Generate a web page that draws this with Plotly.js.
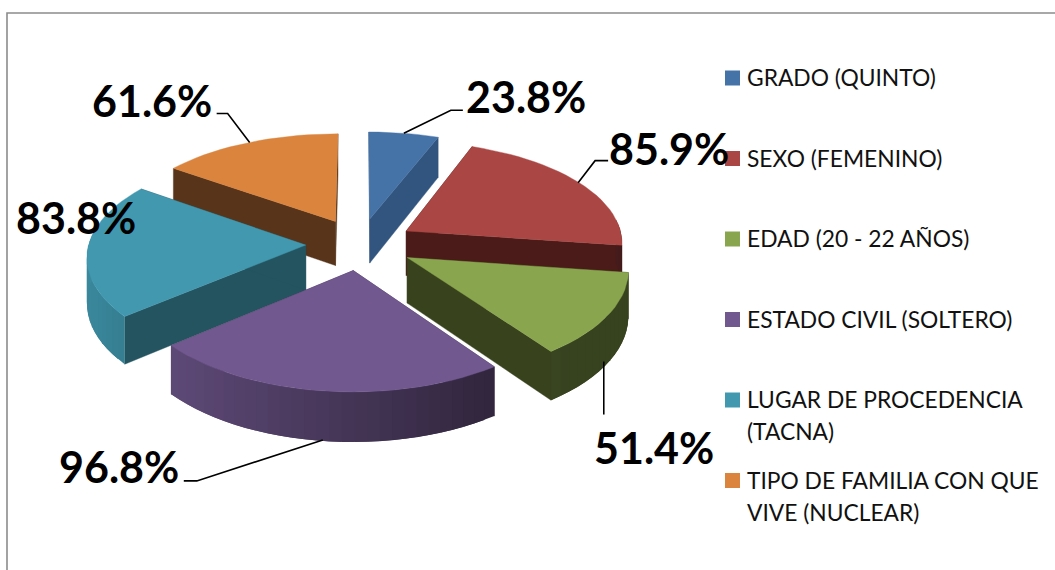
<!DOCTYPE html>
<html><head><meta charset="utf-8">
<script src="https://cdn.plot.ly/plotly-3.0.1.min.js"></script>
<style>html,body{margin:0;padding:0;background:#fff;overflow:hidden}#c{width:1055px;height:570px}</style>
</head><body><div id="c"></div>
<script>
// ---- data ----
const categories = ["GRADO (QUINTO)","SEXO (FEMENINO)","EDAD (20 - 22 AÑOS)","ESTADO CIVIL (SOLTERO)","LUGAR DE PROCEDENCIA (TACNA)","TIPO DE FAMILIA CON QUE VIVE (NUCLEAR)"];
const values = [23.8, 85.9, 51.4, 96.8, 83.8, 61.6];
// ---- style ----
const topColors  = ["#4572A7","#AA4643","#89A54E","#71588F","#4198AF","#DB843D"];
const wallColors = ["#32557F","#4A1B18","#38421C","#3A2A4A","#24545F","#57341A"];
const drawOrder = [0,5,1,4,2,3];
// ---- projection settings (plane point -> picture position, nearer is larger) ----
const cx=360, cy=244, Rx=217, Ry=104.2, px=0.1, py=0.11, explode=0.25;
const depth = V => 45 + 4.1*V;
const uv = t => [Math.sin(t), -Math.cos(t)];
const project = (U,V) => ({x:cx+Rx*U*(1+px*V), y:cy+Ry*V*(1+py*V), V});

const total = values.reduce((a,b)=>a+b,0);
let acc = 0;
const slices = values.map((val,i)=>{
  const a0 = acc/total*2*Math.PI; acc += val; const a1 = acc/total*2*Math.PI;
  const mid=(a0+a1)/2, [mu,mv]=uv(mid), eU=mu*explode, eV=mv*explode;
  const at = t => { const [u,v]=uv(t); return Object.assign(project(eU+u,eV+v),{u,v}); };
  const n=Math.max(6,Math.round((a1-a0)/(Math.PI/60)));
  const arc=[]; for(let k=0;k<=n;k++) arc.push(at(a0+(a1-a0)*k/n));
  return {i,a0,a1,mid,apex:project(eU,eV),arc,midPoint:at(mid)};
});
function shade(hex,k){ const n=parseInt(hex.slice(1),16);
  return `rgb(${[(n>>16)&255,(n>>8)&255,n&255].map(c=>Math.round(c*k)).join(",")})`; }
function poly(xs,ys,color,lw){ return {type:"scatter",mode:"lines",x:xs,y:ys,fill:"toself",fillcolor:color,
  line:{color:color,width:lw},hoverinfo:"skip",showlegend:false}; }

const traces=[];
drawOrder.forEach(idx=>{
  const s=slices[idx], A=s.apex, wall=wallColors[idx], dA=depth(A.V);
  [s.arc[0], s.arc[s.arc.length-1]].forEach(p=>{
    traces.push(poly([A.x,p.x,p.x,A.x,A.x],[A.y,p.y,p.y+depth(p.V),A.y+dA,A.y],wall,0.4));
  });
  // outer wall: strips overlap the next one so no seams appear
  for(let k=0;k<s.arc.length-1;k++){
    const p=s.arc[k], q=s.arc[k+1], r=s.arc[Math.min(k+2,s.arc.length-1)], mv=(p.v+q.v)/2, mu=(p.u+q.u)/2;
    if(mv<-0.1) continue;
    const kk=Math.max(0.4,0.6-0.3*mu);
    traces.push(poly([p.x,q.x,r.x,r.x,q.x,p.x,p.x],[p.y,q.y,r.y,r.y+depth(r.V),q.y+depth(q.V),p.y+depth(p.V),p.y],shade(topColors[idx],kk),0));
  }
  const xs=[A.x,...s.arc.map(p=>p.x),A.x], ys=[A.y,...s.arc.map(p=>p.y),A.y];
  traces.push(poly(xs,ys,topColors[idx],0.4));
});

// leader lines start at each slice's mid-arc
const leaderPaths = [ [[47,-23],[59,-23]], [[17,-22],[30,-22]], [[0,53]], [[-126,41],[-139,41]], null, [[-22,-29],[-33,-29]] ];
const leaderShift = [[0,0],[-1,0],[-4,46],[0,49],[0,0],[1,0]];
leaderPaths.forEach((path,i)=>{
  if(!path) return;
  const m=slices[i].midPoint;
  const sx=m.x+leaderShift[i][0], sy=m.y+leaderShift[i][1];
  traces.push({type:"scatter",mode:"lines",x:[sx,...path.map(p=>sx+p[0])],y:[sy,...path.map(p=>sy+p[1])],
    line:{color:"#000",width:1.6},hoverinfo:"skip",showlegend:false});
});

// legend keys
const legendX=732.5, legendTop=78, legendStep=80.5, legendTextX=746, legendLine=32, legendTextDy=-1;
traces.push({type:"scatter",mode:"markers",x:categories.map(()=>legendX),y:categories.map((_,i)=>legendTop+legendStep*i),
  marker:{symbol:"square",size:15,color:topColors,line:{width:0}},hoverinfo:"skip",showlegend:false});

function wrap(t,max){ const lines=[]; let cur="";
  t.split(" ").forEach(w=>{ if(cur && (cur+" "+w).length>max){lines.push(cur);cur=w;} else cur=cur?cur+" "+w:w; });
  lines.push(cur); return lines; }

const labelCenters=[[526,96],[669,148],[654,447],[119,466],[76,217],[152,100]];
const annotations=[];
values.forEach((v,i)=>annotations.push({x:labelCenters[i][0],y:labelCenters[i][1],xref:"x",yref:"y",showarrow:false,
  text:v.toFixed(1)+"%",font:{family:"Lato",size:43,color:"#000",weight:700},xanchor:"center",yanchor:"middle"}));
categories.forEach((c,i)=>wrap(c,24).forEach((line,j)=>annotations.push({x:legendTextX,y:legendTop+legendStep*i+legendLine*j+legendTextDy,xref:"x",yref:"y",showarrow:false,
  text:line,align:"left",font:{family:"Lato",size:22.8,color:"#111"},xanchor:"left",yanchor:"middle",borderpad:0})));

const layout={width:1055,height:570,margin:{l:0,r:0,t:0,b:0},paper_bgcolor:"#fff",plot_bgcolor:"#fff",showlegend:false,
  xaxis:{range:[0,1055],visible:false,fixedrange:true},
  yaxis:{range:[570,0],visible:false,fixedrange:true},
  shapes:[{type:"path",path:"M 7 570 L 7 13 L 1055 13",xref:"x",yref:"y",line:{color:"#8c8c8c",width:1.6}}],
  annotations};
Plotly.newPlot("c",traces,layout,{displayModeBar:false,staticPlot:true});
</script></body></html>
